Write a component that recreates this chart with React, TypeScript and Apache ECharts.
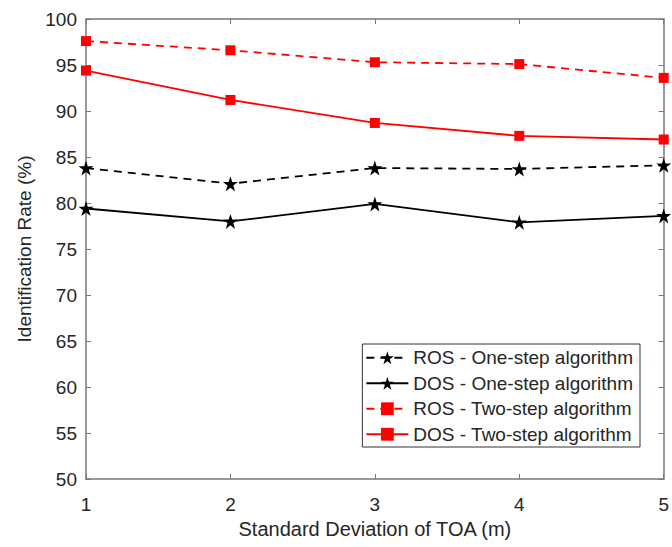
import React, { useEffect, useRef } from "react";
import * as echarts from "echarts";

const xValues = [1, 2, 3, 4, 5];
const rosOneStep = [83.8, 82.1, 83.8, 83.7, 84.1];
const dosOneStep = [79.4, 78.0, 79.9, 77.9, 78.6];
const rosTwoStep = [97.6, 96.6, 95.3, 95.1, 93.6];
const dosTwoStep = [94.4, 91.2, 88.7, 87.3, 86.9];
const seriesNames = [
  "ROS - One-step algorithm",
  "DOS - One-step algorithm",
  "ROS - Two-step algorithm",
  "DOS - Two-step algorithm",
];
const xTitle = "Standard Deviation of TOA (m)";
const yTitle = "Identification Rate (%)";

const FONT = "Liberation Sans, Arial, sans-serif";
const AXIS_COLOR = "#777";
const TEXT_COLOR = "#262626";

export default function App() {
  const ref = useRef<HTMLDivElement>(null);
  useEffect(() => {
    if (!ref.current) return;
    const chart = echarts.init(ref.current, undefined, { renderer: "svg" });
    const pair = (arr: number[]) => xValues.map((x, i) => [x, arr[i]]);
    const axisCommon = {
      axisLine: { show: true, lineStyle: { color: AXIS_COLOR, width: 1.5 } },
      axisTick: { show: true, inside: true, length: 5, lineStyle: { color: AXIS_COLOR } },
      splitLine: { show: false },
    };
    const starSeries = (name: string, data: number[], dashed: boolean) => ({
      name,
      type: "line",
      data: pair(data),
      symbol: "path://M50,0 L61.8,36.2 L100,36.2 L69.1,58.6 L80.9,95.1 L50,72.7 L19.1,95.1 L30.9,58.6 L0,36.2 L38.2,36.2 Z",
      symbolSize: 15,
      itemStyle: { color: "#000" },
      lineStyle: { color: "#000", width: 1.8, type: dashed ? [8, 6] : "solid" },
      z: 3,
    });
    const squareSeries = (name: string, data: number[], dashed: boolean) => ({
      name,
      type: "line",
      data: pair(data),
      symbol: "rect",
      symbolSize: 10,
      itemStyle: { color: "#ff0000" },
      lineStyle: { color: "#ff0000", width: 1.8, type: dashed ? [8, 6] : "solid" },
      z: 4,
    });
    chart.setOption({
      animation: false,
      backgroundColor: "#fff",
      grid: { left: 86, right: 5, top: 19, bottom: 68, containLabel: false },
      xAxis: [
        {
          type: "value",
          min: 1,
          max: 5,
          interval: 1,
          name: xTitle,
          nameLocation: "middle",
          nameGap: 33,
          nameTextStyle: { fontFamily: FONT, fontSize: 20, color: TEXT_COLOR },
          axisLabel: { fontFamily: FONT, fontSize: 19, color: TEXT_COLOR, margin: 16 },
          ...axisCommon,
        },
        {
          type: "value",
          min: 1,
          max: 5,
          interval: 1,
          position: "top",
          axisLabel: { show: false },
          ...axisCommon,
        },
      ],
      yAxis: [
        {
          type: "value",
          min: 50,
          max: 100,
          interval: 5,
          name: yTitle,
          nameLocation: "middle",
          nameGap: 50,
          nameTextStyle: { fontFamily: FONT, fontSize: 19, color: TEXT_COLOR },
          axisLabel: { fontFamily: FONT, fontSize: 19, color: TEXT_COLOR, margin: 9 },
          ...axisCommon,
        },
        {
          type: "value",
          min: 50,
          max: 100,
          interval: 5,
          position: "right",
          axisLabel: { show: false },
          ...axisCommon,
        },
      ],
      legend: {
        orient: "vertical",
        right: 32,
        top: 344,
        backgroundColor: "#fff",
        borderColor: "#333",
        borderWidth: 1,
        borderRadius: 0,
        padding: [4, 7, 3, 3],
        itemGap: 6,
        itemWidth: 42,
        itemHeight: 16,
        textStyle: { fontFamily: FONT, fontSize: 19, lineHeight: 19.5, color: TEXT_COLOR },
        data: seriesNames,
      },
      series: [
        starSeries(seriesNames[0], rosOneStep, true),
        starSeries(seriesNames[1], dosOneStep, false),
        squareSeries(seriesNames[2], rosTwoStep, true),
        squareSeries(seriesNames[3], dosTwoStep, false),
      ],
    });
    return () => chart.dispose();
  }, []);
  return <div ref={ref} style={{ width: 672, height: 547, position: "absolute", left: 0, top: 0 }} />;
}
